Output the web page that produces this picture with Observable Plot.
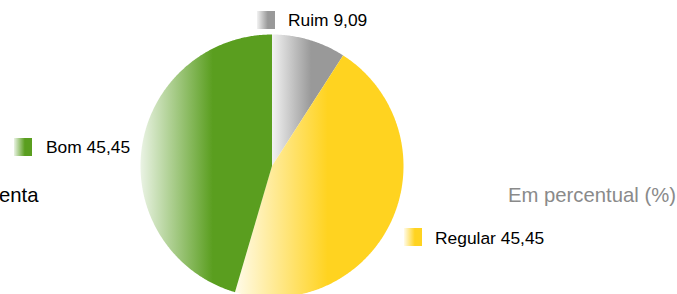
<!DOCTYPE html>
<html><head><meta charset="utf-8">
<script src="https://cdn.jsdelivr.net/npm/d3@7"></script>
<script src="https://cdn.jsdelivr.net/npm/@observablehq/plot@0.6"></script>
<style>
html,body{margin:0;padding:0;background:#fff;overflow:hidden}
#wrap{position:relative;width:677px;height:294px;font-family:"Liberation Sans",Arial,sans-serif}
.lab{position:absolute;font-size:17.4px;color:#000;white-space:nowrap;line-height:1}
.sw{position:absolute;width:18px;height:18px}
.big{position:absolute;font-size:20.3px;white-space:nowrap;line-height:1}
</style></head>
<body><div id="wrap"></div>
<script>
const categories = ["Ruim", "Regular", "Bom"];
const values = [9.09, 45.45, 45.45];
const labels = ["Ruim 9,09", "Regular 45,45", "Bom 45,45"];
const colors = ["#999999", "#ffd320", "#5a9e1f"];
const lightColors = ["#f2f2f2", "#fffbea", "#eaf3e4"];
const sideTexts = ["enta", "Em percentual (%)"];

const total = d3.sum(values);
const rows = [];
let acc = 0;
categories.forEach((c, i) => {
  const a0 = acc / total * 2 * Math.PI;
  acc += values[i];
  const a1 = acc / total * 2 * Math.PI;
  rows.push({cat: c, x: 0, y: 0});
  const n = Math.max(2, Math.ceil((a1 - a0) / (Math.PI / 360)));
  for (let k = 0; k <= n; k++) {
    const a = a0 + (a1 - a0) * k / n;
    rows.push({cat: c, x: Math.sin(a), y: Math.cos(a)});
  }
  rows.push({cat: c, x: 0, y: 0});
});

const marks = categories.map((c, i) =>
  Plot.line(rows.filter(d => d.cat === c), {x: "x", y: "y", fill: `url(#g${i})`, stroke: "none"})
);

const chart = Plot.plot({
  width: 677, height: 294,
  margin: 0,
  x: {domain: [-1, 1], range: [140, 403], axis: null},
  y: {domain: [-1, 1], range: [297, 34], axis: null},
  style: {background: "transparent"},
  marks
});

const defs = d3.select(chart).insert("defs", ":first-child");
colors.forEach((col, i) => {
  const g = defs.append("linearGradient").attr("id", `g${i}`).attr("x1", "0").attr("x2", "1").attr("y1", "0").attr("y2", "0");
  g.append("stop").attr("offset", "0").attr("stop-color", lightColors[i]);
  g.append("stop").attr("offset", "0.55").attr("stop-color", col);
  g.append("stop").attr("offset", "1").attr("stop-color", col);
});

const wrap = document.getElementById("wrap");
wrap.appendChild(chart);
chart.style.position = "absolute"; chart.style.left = "0"; chart.style.top = "0";

const legendPos = [
  {sx: 257, sy: 11, tx: 288, ty: 12},
  {sx: 404, sy: 228, tx: 435, ty: 230},
  {sx: 14, sy: 138, tx: 46, ty: 139}
];
labels.forEach((t, i) => {
  const p = legendPos[i];
  const sw = document.createElement("div");
  sw.className = "sw";
  sw.style.left = p.sx + "px"; sw.style.top = p.sy + "px";
  sw.style.background = `linear-gradient(to right, ${lightColors[i]} 0%, ${colors[i]} 60%, ${colors[i]} 100%)`;
  wrap.appendChild(sw);
  const lb = document.createElement("div");
  lb.className = "lab";
  lb.style.left = p.tx + "px"; lb.style.top = p.ty + "px";
  lb.textContent = t;
  wrap.appendChild(lb);
});
const s1 = document.createElement("div");
s1.className = "big"; s1.style.left = "-1px"; s1.style.top = "185px"; s1.style.color = "#000";
s1.textContent = sideTexts[0];
wrap.appendChild(s1);
const s2 = document.createElement("div");
s2.className = "big"; s2.style.left = "508px"; s2.style.top = "185px"; s2.style.color = "#8a8a8a";
s2.textContent = sideTexts[1];
wrap.appendChild(s2);
</script></body></html>
